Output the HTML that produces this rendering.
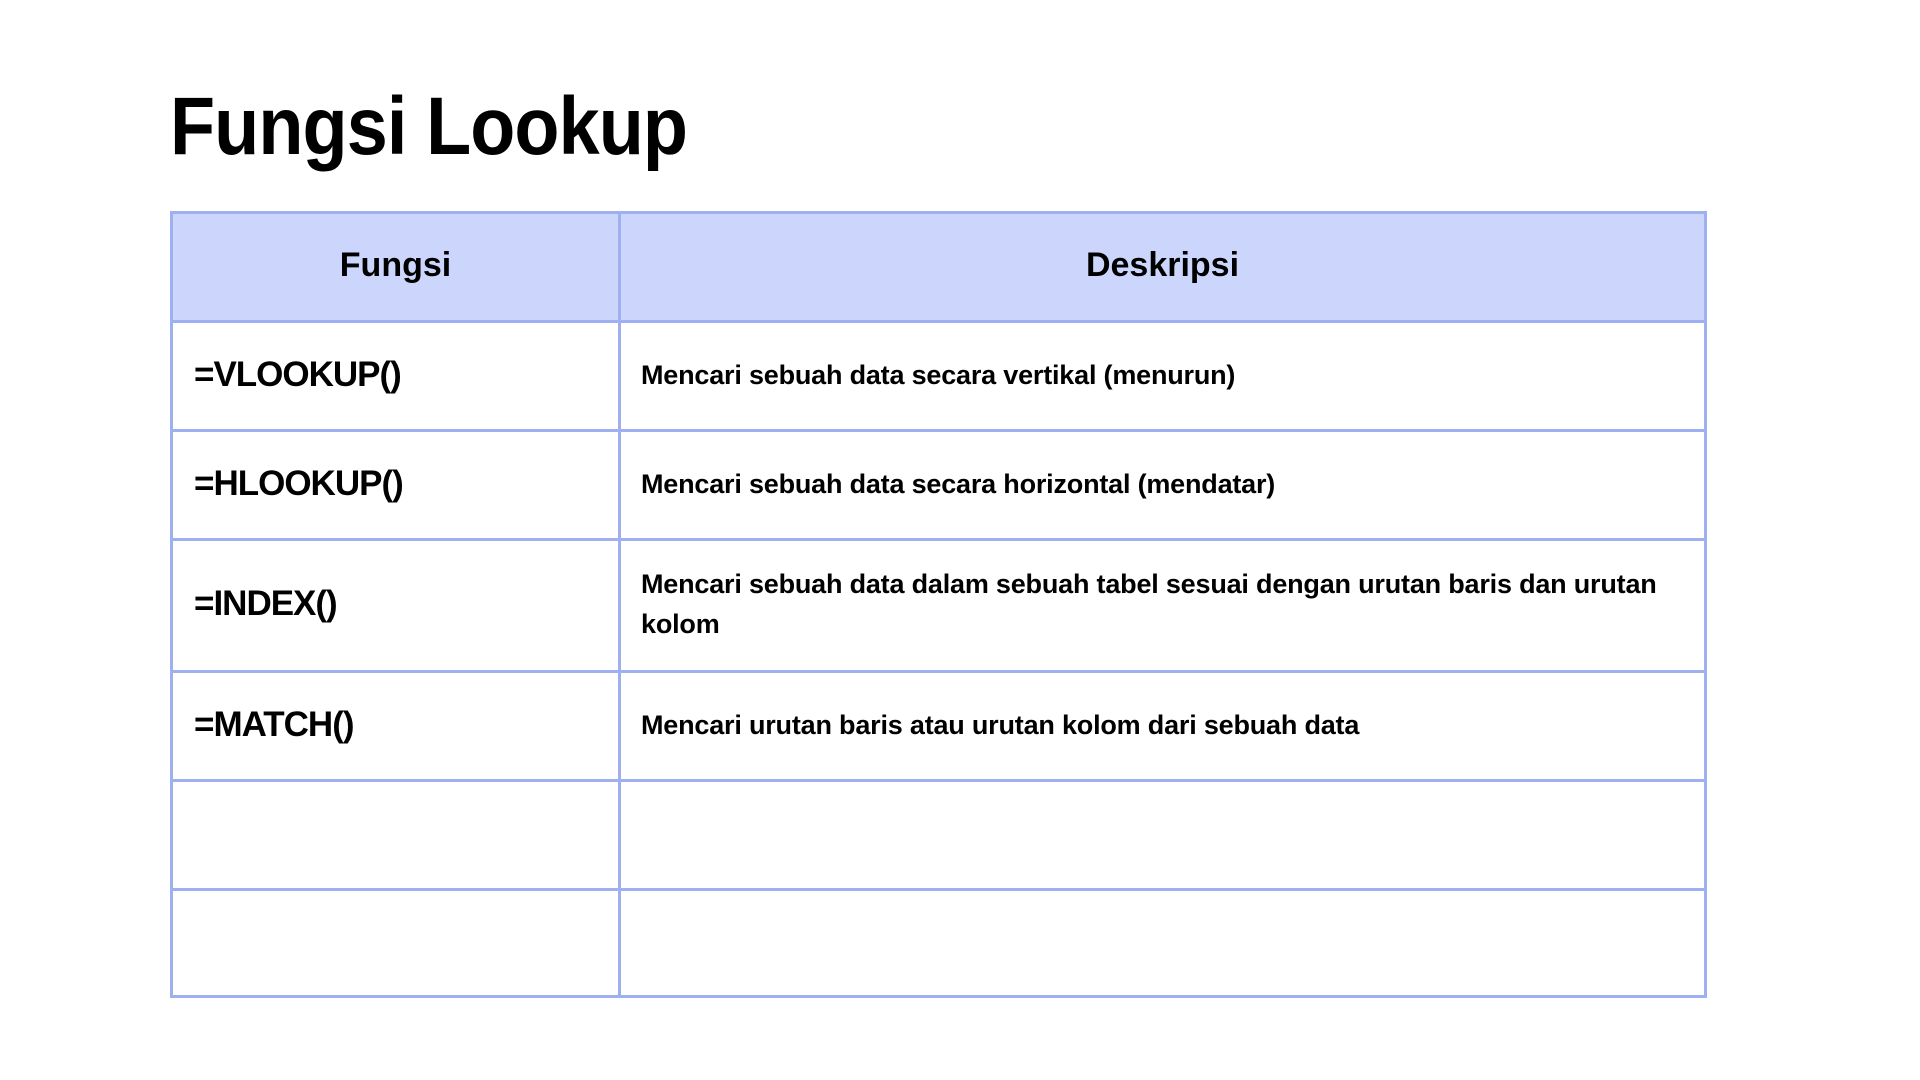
<!DOCTYPE html>
<html><head><meta charset="utf-8"><style>
body{margin:0;width:1920px;height:1080px;background:#fff;font-family:"Liberation Sans",sans-serif;position:relative;overflow:hidden;color:#000}
h1{position:absolute;left:170px;top:80px;margin:0;font-size:82px;font-weight:bold;letter-spacing:-1px;transform:scaleX(0.9);transform-origin:0 0;white-space:nowrap}
.t{position:absolute;left:170px;top:211px;width:1537px;height:787px;border:3px solid #9fb0f0;box-sizing:border-box}
.h{position:absolute;left:0;top:0;right:0;height:107px;background:#ccd6fc}
.hl{position:absolute;left:0;right:0;height:3px;background:#9fb0f0}
.vl{position:absolute;top:0;bottom:0;left:445px;width:3px;background:#9fb0f0}
.c{position:absolute;font-weight:bold;white-space:nowrap}
.f{left:21px;font-size:35px;letter-spacing:-1px}
.d{left:468px;font-size:27px;line-height:40px;letter-spacing:-0.2px}
.hd{font-size:34px;text-align:center;top:32px}
</style></head><body>
<h1>Fungsi Lookup</h1>
<div class="t">
<div class="h"></div>
<div class="hl" style="top:106px"></div>
<div class="hl" style="top:215px"></div>
<div class="hl" style="top:324px"></div>
<div class="hl" style="top:456px"></div>
<div class="hl" style="top:565px"></div>
<div class="hl" style="top:674px"></div>
<div class="vl"></div>
<div class="c hd" style="left:0;width:445px">Fungsi</div>
<div class="c hd" style="left:448px;right:0">Deskripsi</div>
<div class="c f" style="top:141px">=VLOOKUP()</div>
<div class="c d" style="top:141px">Mencari sebuah data secara vertikal (menurun)</div>
<div class="c f" style="top:250px">=HLOOKUP()</div>
<div class="c d" style="top:250px">Mencari sebuah data secara horizontal (mendatar)</div>
<div class="c f" style="top:370px">=INDEX()</div>
<div class="c d" style="top:350px">Mencari sebuah data dalam sebuah tabel sesuai dengan urutan baris dan urutan<br>kolom</div>
<div class="c f" style="top:491px">=MATCH()</div>
<div class="c d" style="top:491px">Mencari urutan baris atau urutan kolom dari sebuah data</div>
</div>
</body></html>
